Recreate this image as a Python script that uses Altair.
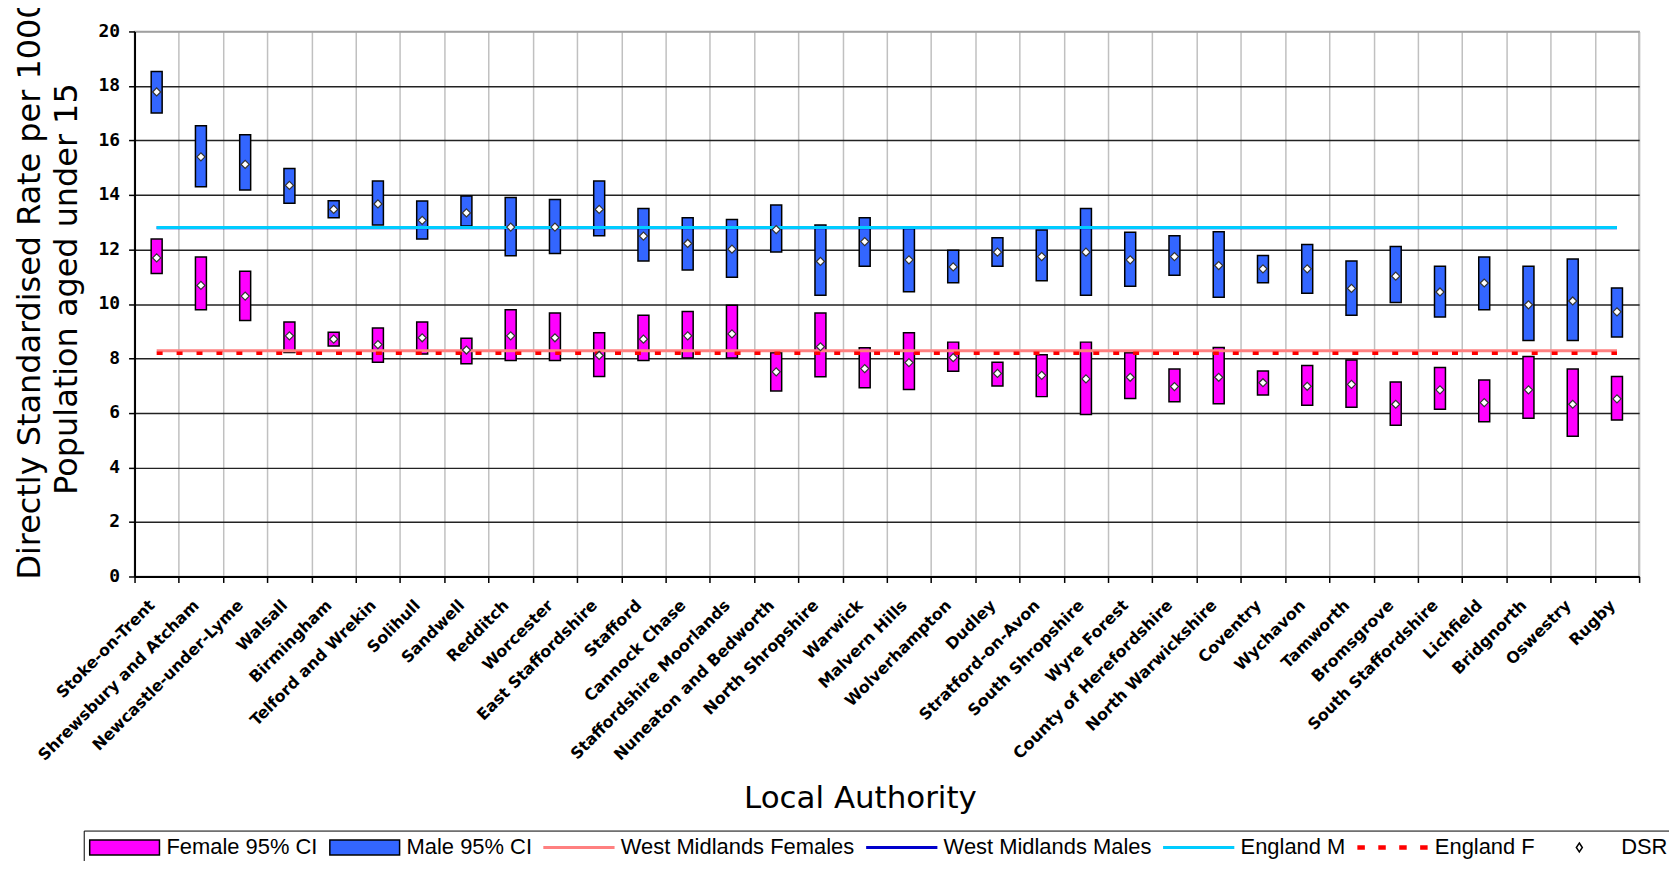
import altair as alt
import pandas as pd

categories = [
    "Stoke-on-Trent", "Shrewsbury and Atcham", "Newcastle-under-Lyme", "Walsall",
    "Birmingham", "Telford and Wrekin", "Solihull", "Sandwell", "Redditch",
    "Worcester", "East Staffordshire", "Stafford", "Cannock Chase",
    "Staffordshire Moorlands", "Nuneaton and Bedworth", "North Shropshire",
    "Warwick", "Malvern Hills", "Wolverhampton", "Dudley", "Stratford-on-Avon",
    "South Shropshire", "Wyre Forest", "County of Herefordshire",
    "North Warwickshire", "Coventry", "Wychavon", "Tamworth", "Bromsgrove",
    "South Staffordshire", "Lichfield", "Bridgnorth", "Oswestry", "Rugby",
]

female_hi = [12.38, 11.72, 11.20, 9.34, 8.96, 9.12, 9.34, 8.74, 9.79, 9.67, 8.94, 9.59,
             9.72, 9.95, 8.21, 9.67, 8.39, 8.94, 8.60, 7.86, 8.14, 8.60, 8.21, 7.61,
             8.40, 7.54, 7.74, 7.94, 7.14, 7.67, 7.21, 8.07, 7.61, 7.34]
female_lo = [11.12, 9.79, 9.39, 8.22, 8.46, 7.86, 8.16, 7.81, 7.93, 7.93, 7.34, 7.93,
             8.02, 8.02, 6.81, 7.33, 6.93, 6.86, 7.53, 6.99, 6.60, 5.94, 6.53, 6.41,
             6.34, 6.66, 6.28, 6.21, 5.55, 6.14, 5.68, 5.81, 5.15, 5.74]
female_dsr = [11.69, 10.68, 10.29, 8.83, 8.71, 8.51, 8.76, 8.31, 8.83, 8.76, 8.11, 8.71,
              8.83, 8.90, 7.51, 8.43, 7.63, 7.85, 8.03, 7.45, 7.38, 7.25, 7.31, 6.97,
              7.31, 7.11, 6.98, 7.05, 6.32, 6.85, 6.38, 6.85, 6.32, 6.52]

male_hi = [18.53, 16.54, 16.21, 14.97, 13.79, 14.51, 13.78, 13.96, 13.91, 13.83, 14.51, 13.50,
           13.16, 13.10, 13.63, 12.90, 13.16, 12.77, 11.97, 12.43, 12.71, 13.50, 12.63, 12.50,
           12.65, 11.78, 12.18, 11.58, 12.11, 11.38, 11.72, 11.38, 11.65, 10.59]
male_lo = [17.01, 14.30, 14.18, 13.70, 13.16, 12.90, 12.38, 12.86, 11.77, 11.85, 12.50, 11.58,
           11.25, 10.98, 11.91, 10.32, 11.38, 10.45, 10.78, 11.38, 10.85, 10.32, 10.65, 11.05,
           10.25, 10.78, 10.39, 9.59, 10.05, 9.52, 9.79, 8.66, 8.66, 8.79]
male_dsr = [17.78, 15.40, 15.12, 14.35, 13.47, 13.67, 13.07, 13.34, 12.82, 12.82, 13.47, 12.49,
            12.22, 12.01, 12.73, 11.56, 12.29, 11.62, 11.36, 11.90, 11.74, 11.90, 11.62, 11.74,
            11.41, 11.29, 11.29, 10.57, 11.02, 10.44, 10.77, 9.97, 10.11, 9.71]

west_midlands_males = 12.80
england_m = 12.81
west_midlands_females = 8.28
england_f = 8.19

legend_labels = ["Female 95% CI", "Male 95% CI", "West Midlands Females",
                 "West Midlands Males", "England M", "England F", "DSR"]
y_ticks = list(range(0, 21, 2))

# ---- styling (not data) ----
FEMALE = "#FF00FF"
MALE = "#3366FF"
WMF = "#FF8080"
WMM = "#0000CC"
ENGM = "#00CCFF"
ENGF = "#FF0000"

legend_fill = [FEMALE, MALE, WMF, WMM, ENGM, ENGF, "white"]
legend_stroke = ["black", "black", WMF, WMM, ENGM, ENGF, "black"]
RECT = "M-2.2,-1.5H11.8V1.5H-2.2Z"
LINE = "M-2.2,-0.15H11.8V0.15H-2.2Z"
DOTS = ("M-2.2,-0.3H-1V0.3H-2.2Z M2,-0.3H3.2V0.3H2Z "
        "M6.2,-0.3H7.4V0.3H6.2Z M10.4,-0.3H11.6V0.3H10.4Z")
DIAM = "M4.8,-0.9L5.4,0L4.8,0.9L4.2,0Z"
legend_shapes = [RECT, RECT, LINE, LINE, LINE, DOTS, DIAM]

df = pd.DataFrame({
    "category": categories,
    "female_lo": female_lo, "female_hi": female_hi, "female_dsr": female_dsr,
    "male_lo": male_lo, "male_hi": male_hi, "male_dsr": male_dsr,
    "wm_m": [west_midlands_males] * len(categories),
    "eng_m": [england_m] * len(categories),
    "wm_f": [west_midlands_females] * len(categories),
    "eng_f": [england_f] * len(categories),
})
legend_df = pd.DataFrame({"series": legend_labels})

x_axis = alt.Axis(
    title="Local Authority", titleFont="DejaVu Sans", titleFontSize=31,
    titleFontWeight="normal", titleColor="black",
    titleX=728, titleY=223, titleBaseline="middle", titleAlign="center",
    labelAngle=315, labelAlign="right", labelBaseline="middle",
    labelFont="DejaVu Sans", labelFontSize=16, labelFontWeight="bold",
    labelColor="black", labelPadding=20, labelOffset=-5, labelLimit=400,
    labelOverlap=False,
    tickBand="extent", tickColor="black", tickSize=6, tickWidth=1.5,
    domainColor="black", domainWidth=2,
    grid=True, gridColor="#c0c0c0", gridWidth=1.5,
)
y_axis = alt.Axis(
    values=y_ticks,
    title=["Directly Standardised Rate per 1000", "Population aged under 15"],
    titleFont="DejaVu Sans", titleFontSize=32, titleFontWeight="normal",
    titleColor="black", titleAngle=270, titleAlign="center",
    titleBaseline="middle", titleX=-105, titleY=258, titleLineHeight=37,
    labelFont="DejaVu Sans Mono", labelFontSize=18, labelFontWeight="bold",
    labelColor="black", labelPadding=9,
    tickColor="black", tickSize=6, tickWidth=1.5,
    domainColor="black", domainWidth=2,
    grid=True,
    gridColor={"condition": {"test": "datum.value == 20", "value": "#a0a0a0"},
               "value": "#222222"},
    gridWidth=1.5,
)
x_scale = alt.Scale(domain=categories, paddingInner=0, paddingOuter=0)
y_scale = alt.Scale(domain=[0, 20], nice=False)


def X():
    return alt.X("category:N", scale=x_scale, axis=x_axis)


def Y(field):
    return alt.Y(field, type="quantitative", scale=y_scale, axis=y_axis)


base = alt.Chart(df)

female_bars = base.mark_bar(size=11, fill=FEMALE, stroke="black", strokeWidth=1.5).encode(
    x=X(), y=Y("female_lo"), y2="female_hi:Q")
male_bars = base.mark_bar(size=11, fill=MALE, stroke="black", strokeWidth=1.5).encode(
    x=X(), y=Y("male_lo"), y2="male_hi:Q")

line_wm_m = base.mark_line(color=WMM, strokeWidth=3).encode(x=X(), y=Y("wm_m"))
line_eng_m = base.mark_line(color=ENGM, strokeWidth=3).encode(x=X(), y=Y("eng_m"))
line_wm_f = base.mark_line(color=WMF, strokeWidth=3).encode(x=X(), y=Y("wm_f"))
line_eng_f = base.mark_line(color=ENGF, strokeWidth=3.5, strokeDash=[6, 14]).encode(
    x=X(), y=Y("eng_f"))

pt_kw = dict(shape="diamond", filled=True, fill="white", stroke="#333333",
             strokeWidth=1.2, size=65, opacity=1)
female_pts = base.mark_point(**pt_kw).encode(x=X(), y=Y("female_dsr"))
male_pts = base.mark_point(**pt_kw).encode(x=X(), y=Y("male_dsr"))

leg = alt.Legend(
    orient="none", legendX=-51, legendY=802, direction="horizontal", columns=7,
    title=None, padding=6, strokeColor="black", fillColor="white",
    labelFont="Liberation Sans", labelFontSize=22, labelColor="black",
    labelLimit=400, labelOffset=55, columnPadding=9,
    symbolSize=100, symbolStrokeWidth=1.5,
)
legend_layer = alt.Chart(legend_df).transform_filter("false").mark_point(
    filled=True, opacity=1, strokeWidth=1.5, size=100
).encode(
    color=alt.Color("series:N", scale=alt.Scale(domain=legend_labels, range=legend_fill), legend=leg),
    stroke=alt.Stroke("series:N", scale=alt.Scale(domain=legend_labels, range=legend_stroke), legend=leg),
    shape=alt.Shape("series:N", scale=alt.Scale(domain=legend_labels, range=legend_shapes), legend=leg),
)

chart = alt.layer(
    female_bars, male_bars, line_wm_m, line_eng_m, line_wm_f, line_eng_f,
    female_pts, male_pts, legend_layer,
).properties(
    width=1510, height=547,
    autosize=alt.AutoSizeParams(type="none"),
    padding={"left": 127, "top": 22, "right": 30, "bottom": 284},
    background="white",
).configure_view(stroke="#a0a0a0", strokeWidth=1.5)

chart.save("out.html", embed_options={"renderer": "svg", "actions": False})
